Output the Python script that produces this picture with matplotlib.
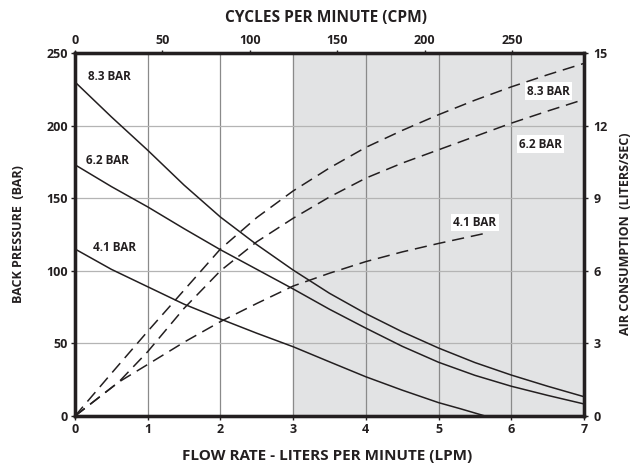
import matplotlib.pyplot as plt

plt.rcParams['font.family'] = ['Open Sans', 'DejaVu Sans']
plt.rcParams['font.weight'] = 'bold'

ink = '#231f20'

# flow rate (LPM) vs back pressure (BAR) - solid curves
flow = [0, 0.5, 1, 1.5, 2, 2.5, 3, 3.5, 4, 4.5, 5, 5.5, 6, 6.5, 7]
bp_83 = [230, 206, 183, 159, 137, 118, 100.5, 84.5, 70.5, 58, 46.8, 36.8, 28.2, 20.5, 13.3]
bp_62 = [173, 158, 144, 129, 114.5, 101, 87.5, 73.5, 60.5, 48, 37, 28, 20.5, 14.2, 8.3]
flow_41 = [0, 0.5, 1, 1.5, 2, 2.5, 3, 3.5, 4, 4.5, 5, 5.3, 5.64]
bp_41 = [115, 101, 89, 77, 66.8, 57, 47.7, 37.3, 27, 17.8, 9.2, 5, 0]

# air consumption (liters/sec) - dashed curves
air_83 = [0, 1.76, 3.5, 5.2, 6.9, 8.2, 9.3, 10.25, 11.1, 11.8, 12.45, 13.05, 13.6, 14.1, 14.57]
flow_62a = [0, 0.6, 1, 1.5, 2, 2.5, 3, 3.5, 4, 4.5, 5, 5.5, 6, 6.5, 7]
air_62 = [0, 1.4, 2.66, 4.45, 6.0, 7.2, 8.17, 9.05, 9.83, 10.45, 11.0, 11.55, 12.1, 12.6, 13.08]
flow_41a = [0, 0.6, 1, 1.5, 2, 2.5, 3, 3.5, 4, 4.5, 5, 5.66]
air_41 = [0, 1.4, 2.13, 3.05, 3.9, 4.65, 5.37, 5.9, 6.38, 6.78, 7.13, 7.56]

fig = plt.figure(figsize=(6.44, 4.66), dpi=100)
ax = fig.add_axes([0.1165, 0.1073, 0.7903, 0.779])

ax.axvspan(3, 7, color='#e2e3e4', zorder=0)
for x in range(1, 7):
    ax.axvline(x, color='#8a8a8a', lw=0.9, zorder=1)
for y in [50, 100, 150, 200]:
    ax.axhline(y, color='#b4b4b4', lw=0.9, zorder=1)

ax.plot(flow, bp_83, color=ink, lw=1.1, zorder=3)
ax.plot(flow, bp_62, color=ink, lw=1.1, zorder=3)
ax.plot(flow_41, bp_41, color=ink, lw=1.1, zorder=3)

ax.set_xlim(0, 7)
ax.set_ylim(0, 250)
ax.set_xticks(range(0, 8))
ax.set_yticks([0, 50, 100, 150, 200, 250])
ax.tick_params(colors=ink, labelsize=9, length=3, width=1, pad=2)
ax.set_xlabel('FLOW RATE - LITERS PER MINUTE (LPM)', fontsize=11, fontweight='bold', color=ink,
              va='center', ha='center')
ax.xaxis.set_label_coords(0.495, -0.110)
ax.set_ylabel('BACK PRESSURE  (BAR)', fontsize=9, fontweight='bold', color=ink,
              va='center', ha='center')
ax.yaxis.set_label_coords(-0.112, 0.501)

axr = ax.twinx()
axr.plot(flow, air_83, color=ink, lw=1.1, dashes=(8, 4.5), zorder=3)
axr.plot(flow_62a, air_62, color=ink, lw=1.1, dashes=(8, 4.5), zorder=3)
axr.plot(flow_41a, air_41, color=ink, lw=1.1, dashes=(8, 4.5), zorder=3)
axr.set_ylim(0, 15)
axr.set_yticks([0, 3, 6, 9, 12, 15])
axr.tick_params(colors=ink, labelsize=9, length=3, width=1, pad=4)
axr.set_ylabel('AIR CONSUMPTION  (LITERS/SEC)', fontsize=9, fontweight='bold', color=ink,
               va='center', ha='center')
axr.yaxis.set_label_coords(1.0806, 0.503)

axt = ax.twiny()
axt.set_xlim(0, 291)
axt.set_xticks([0, 50, 100, 150, 200, 250])
axt.tick_params(colors=ink, labelsize=9, length=2, width=1, pad=2)
axt.set_xlabel('CYCLES PER MINUTE (CPM)', fontsize=11.2, fontweight='bold', color=ink,
               va='center', ha='center')
axt.xaxis.set_label_coords(0.493, 1.096)

for a in (ax, axr, axt):
    for s in a.spines.values():
        s.set_linewidth(2.3)
        s.set_color(ink)
        s.set_zorder(5)

lbl = dict(fontsize=8.5, fontweight='bold', color=ink, ha='center', va='center')
ax.text(0.48, 233.5, '8.3 BAR', **lbl)
ax.text(0.45, 176, '6.2 BAR', **lbl)
ax.text(0.55, 115.8, '4.1 BAR', **lbl)
box = dict(facecolor='white', edgecolor='none', pad=1.5)
ax.text(6.51, 223.8, '8.3 BAR', bbox=box, zorder=4, **lbl)
ax.text(6.40, 187.3, '6.2 BAR', bbox=box, zorder=4, **lbl)
ax.text(5.50, 133.0, '4.1 BAR', bbox=box, zorder=4, **lbl)

fig.savefig('out.png', dpi=100)
